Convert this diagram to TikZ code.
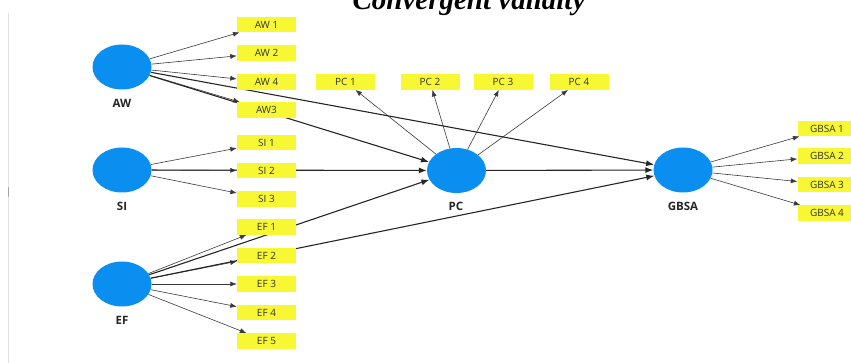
\documentclass[tikz,border=0pt]{standalone}
\usepackage{fontspec}
\setmainfont{Open Sans}
\newfontfamily\titlefont{Liberation Serif}
\usetikzlibrary{arrows.meta,shapes.geometric,backgrounds}
\definecolor{lvblue}{HTML}{0A8FF0}
\definecolor{indyellow}{HTML}{F7F733}
\definecolor{edgegray}{HTML}{3A3A3A}
\begin{document}
\begin{tikzpicture}[x=1pt,y=-1pt,
  latent/.style={ellipse, fill=lvblue, minimum width=59pt, minimum height=45pt, inner sep=0pt},
  indicator/.style={fill=indyellow, minimum width=59pt, minimum height=15.5pt, inner sep=0pt, font=\fontsize{10}{11}\selectfont, text=black!80},
  lvlabel/.style={font=\bfseries\fontsize{11.5}{13}\selectfont, text=black!85},
  load/.style={draw=edgegray, line width=0.6pt, -{Latex[length=6.5pt,width=5pt]}},
  struct/.style={draw=black!85, line width=1.1pt, -{Latex[length=8pt,width=6pt]}},
  frame/.style={draw=black!12, line width=1.2pt},
]
\useasboundingbox (0,0) rectangle (851,363);
% title (cut by the top edge)
\node[anchor=base, inner sep=0pt, font=\titlefont\bfseries\itshape\fontsize{29}{32}\selectfont] (title) at (469,10) {Convergent validity};
% latent variables
\node[latent] (aw) at (122,67) {};
\node[latent] (si) at (122,170) {};
\node[latent] (ef) at (122,284) {};
\node[latent] (pc) at (456.5,170.5) {};
\node[latent] (gbsa) at (683,170) {};
\node[lvlabel] (awl) at (122,103) {AW};
\node[lvlabel] (sil) at (122,206) {SI};
\node[lvlabel] (efl) at (122,320) {EF};
\node[lvlabel] (pcl) at (456,206) {PC};
\node[lvlabel] (gbsal) at (683,206) {GBSA};
% indicators
\node[indicator] (aw1) at (266.5,24.5) {AW 1};
\node[indicator] (aw2) at (266.5,53) {AW 2};
\node[indicator] (aw4) at (266.5,82) {AW 4};
\node[indicator] (aw3) at (266.5,110) {AW3};
\node[indicator] (si1) at (266.5,142.5) {SI 1};
\node[indicator] (si2) at (266.5,170.5) {SI 2};
\node[indicator] (si3) at (266.5,199) {SI 3};
\node[indicator] (ef1) at (266.5,227) {EF 1};
\node[indicator] (ef2) at (266.5,255.5) {EF 2};
\node[indicator] (ef3) at (266.5,284) {EF 3};
\node[indicator] (ef4) at (266.5,312.5) {EF 4};
\node[indicator] (ef5) at (266.5,341) {EF 5};
\node[indicator] (pc1) at (345.5,82) {PC 1};
\node[indicator] (pc2) at (430,82) {PC 2};
\node[indicator] (pc3) at (503,82) {PC 3};
\node[indicator] (pc4) at (579,82) {PC 4};
\node[indicator] (g1) at (827,128.5) {GBSA 1};
\node[indicator] (g2) at (827,156) {GBSA 2};
\node[indicator] (g3) at (827,184.5) {GBSA 3};
\node[indicator] (g4) at (827,213) {GBSA 4};
\begin{pgfonlayer}{background}
  \fill[white] (0,0) rectangle (851,363);
  \draw[frame] (8.5,13) -- (8.5,363);
  \draw[draw=black!35, line width=1.6pt] (8.5,187) -- (8.5,197);
  % loadings
  \foreach \t in {aw1,aw2,aw4,aw3} \draw[load] (aw) -- (\t);
  \foreach \t in {si1,si2,si3} \draw[load] (si) -- (\t);
  \foreach \t in {ef1,ef2,ef3,ef4,ef5} \draw[load] (ef) -- (\t);
  \foreach \t in {pc1,pc2,pc3,pc4} \draw[load] (pc) -- (\t);
  \foreach \t in {g1,g2,g3,g4} \draw[load] (gbsa) -- (\t);
  % structural paths
  \draw[struct] (aw) -- (pc);
  \draw[struct] (aw) -- (gbsa);
  \draw[struct] (si) -- (pc);
  \draw[struct] (ef) -- (pc);
  \draw[struct] (ef) -- (gbsa);
  \draw[struct] (pc) -- (gbsa);
\end{pgfonlayer}
\end{tikzpicture}
\end{document}
